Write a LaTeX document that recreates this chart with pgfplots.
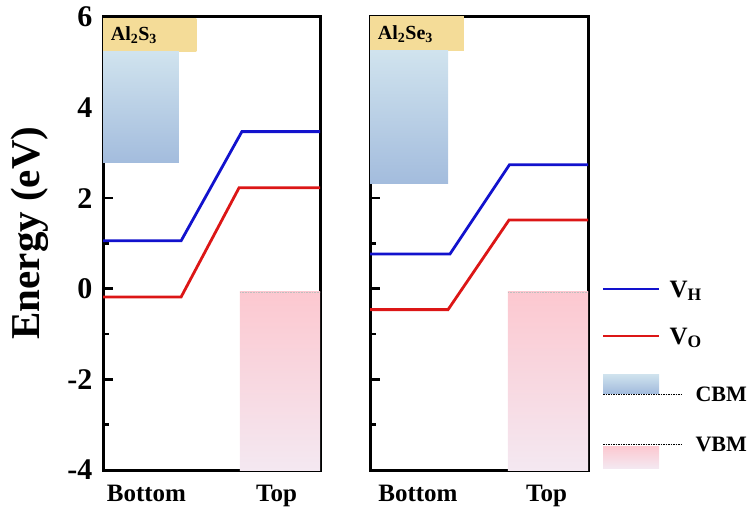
\documentclass[border=0pt]{standalone}
\usepackage{pgfplots}
\pgfplotsset{compat=1.18}
\usepackage{fontspec}
\setmainfont{Liberation Serif}
\definecolor{vh}{RGB}{18,18,205}
\definecolor{vo}{RGB}{220,22,22}
\definecolor{yel}{RGB}{244,220,152}
\definecolor{cbtop}{RGB}{208,227,238}
\definecolor{cbbot}{RGB}{163,188,221}
\definecolor{vbtop}{RGB}{252,200,208}
\definecolor{vbbot}{RGB}{244,232,241}
\pgfplotsset{panel/.style={
  scale only axis, width=217pt, height=453pt,
  xmin=0, xmax=1, ymin=-4, ymax=6,
  separate axis lines,
  axis line style={line width=3pt, line cap=rect},
  every outer x axis line/.append style={line width=3pt, line cap=rect},
  every outer y axis line/.append style={line width=3pt, line cap=rect},
  ytick={-4,-2,0,2,4,6}, minor ytick={-3,-1,1,3,5},
  ytick pos=left, tick align=inside,
  major tick length=10pt, minor tick length=6pt,
  tick style={black, line width=2.6pt},
  xtick={0.2,0.8}, xticklabels={Bottom,Top},
  x tick style={draw=none},
  xticklabel style={font=\fontsize{25}{25}\selectfont\bfseries, yshift=-12pt},
  yticklabel style={font=\fontsize{30}{30}\selectfont\bfseries, xshift=-7pt},
}}
\begin{document}
\begin{tikzpicture}
\path[use as bounding box] (0pt,0pt) rectangle (750pt,515pt);
% left panel
\begin{axis}[panel, at={(103pt,45pt)}, anchor=south west, yticklabels={-4,-2,0,2,4,6}]
\addplot[draw=none, top color=yel, bottom color=yel] coordinates {(0,5.23) (0.43,5.23) (0.43,5.96) (0,5.96)};
\addplot[draw=none, top color=cbtop, bottom color=cbbot] coordinates {(0,2.78) (0.35,2.78) (0.35,5.23) (0,5.23)};
\addplot[draw=none, top color=vbtop, bottom color=vbbot] coordinates {(0.631,-4) (1,-4) (1,-0.07) (0.631,-0.07)};
\addplot[gray!50, densely dotted, line width=0.6pt] coordinates {(0.631,-0.07) (1,-0.07)};
\addplot[vh, line width=2.8pt] coordinates {(0,1.06) (0.36,1.06) (0.64,3.47) (1,3.47)};
\addplot[vo, line width=2.8pt] coordinates {(0,-0.18) (0.36,-0.18) (0.627,2.23) (1,2.23)};
\node[anchor=west, font=\fontsize{20}{20}\selectfont\bfseries] at (axis cs:0.02,5.6) {Al\textsubscript{2}S\textsubscript{3}};
\end{axis}
% right panel
\begin{axis}[panel, at={(370pt,45pt)}, anchor=south west, width=218pt, yticklabels={}, xtick={0.22,0.81}]
\addplot[draw=none, top color=yel, bottom color=yel] coordinates {(0,5.25) (0.431,5.25) (0.431,6) (0,6)};
\addplot[draw=none, top color=cbtop, bottom color=cbbot] coordinates {(0,2.32) (0.358,2.32) (0.358,5.25) (0,5.25)};
\addplot[draw=none, top color=vbtop, bottom color=vbbot] coordinates {(0.633,-4) (1,-4) (1,-0.07) (0.633,-0.07)};
\addplot[gray!50, densely dotted, line width=0.6pt] coordinates {(0.633,-0.07) (1,-0.07)};
\addplot[vh, line width=2.8pt] coordinates {(0,0.77) (0.367,0.77) (0.64,2.74) (1,2.74)};
\addplot[vo, line width=2.8pt] coordinates {(0,-0.46) (0.358,-0.46) (0.638,1.52) (1,1.52)};
\node[anchor=west, font=\fontsize{20}{20}\selectfont\bfseries] at (axis cs:0.02,5.62) {Al\textsubscript{2}Se\textsubscript{3}};
\end{axis}
% legend (pixel coordinates)
\begin{axis}[at={(0pt,0pt)}, anchor=south west, scale only axis, width=750pt, height=515pt,
  xmin=0, xmax=750, ymin=0, ymax=515, y dir=reverse, hide axis, clip=false]
\addplot[vh, line width=1.8pt] coordinates {(603,289) (659,289)};
\addplot[vo, line width=1.8pt] coordinates {(603,336) (659,336)};
\addplot[draw=none, top color=cbtop, bottom color=cbbot] coordinates {(603,374) (659,374) (659,393) (603,393)};
\addplot[black, line width=0.7pt, dash pattern=on 1.5pt off 1pt] coordinates {(603,394) (683,394)};
\addplot[black, line width=0.7pt, dash pattern=on 1.5pt off 1pt] coordinates {(603,444) (683,444)};
\addplot[draw=none, top color=vbtop, bottom color=vbbot] coordinates {(603,446) (659,446) (659,468) (603,468)};
\node[anchor=base west, font=\fontsize{25}{25}\selectfont\bfseries] at (axis cs:666,297) {V\textsubscript{H}};
\node[anchor=base west, font=\fontsize{25}{25}\selectfont\bfseries] at (axis cs:666,344) {V\textsubscript{O}};
\node[anchor=base west, font=\fontsize{22}{22}\selectfont\bfseries] at (axis cs:692,401) {CBM};
\node[anchor=base west, font=\fontsize{22}{22}\selectfont\bfseries] at (axis cs:692,451) {VBM};
\node[rotate=90, font=\fontsize{41}{41}\selectfont\bfseries] at (axis cs:30,233) {Energy (eV)};
\end{axis}
\end{tikzpicture}
\end{document}
